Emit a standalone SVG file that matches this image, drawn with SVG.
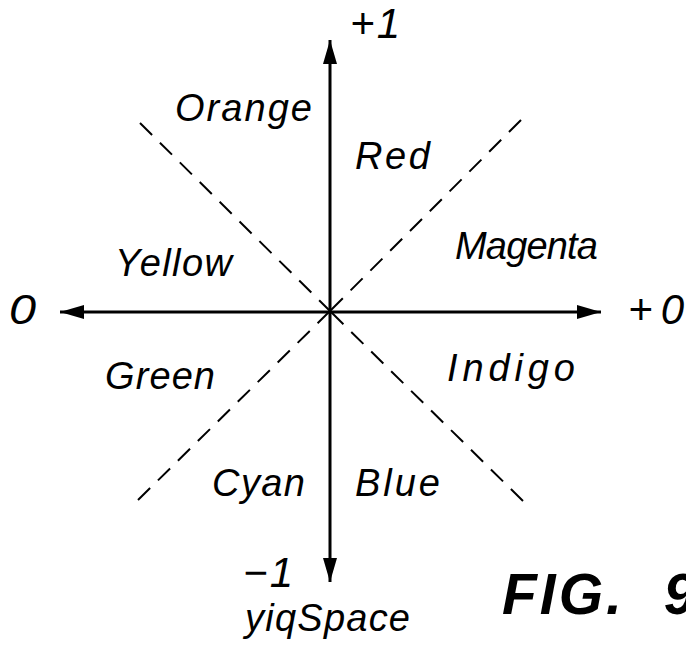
<svg xmlns="http://www.w3.org/2000/svg" width="686" height="649" viewBox="0 0 686 649">
<style>
.lbl{font-family:"Liberation Sans","DejaVu Sans",sans-serif;font-style:italic;font-size:38px;fill:#000}
.ax{font-size:42px}
.axis{stroke:#000;stroke-width:3;fill:none}
.diag{stroke:#000;stroke-width:2;stroke-dasharray:17 11;fill:none}
.fig{font-family:"Liberation Sans",Arial,sans-serif;font-style:italic;font-weight:bold;font-size:57px;fill:#000}
</style>
<defs>
<marker id="ah" viewBox="0 0 24 14" refX="24" refY="7" markerWidth="24" markerHeight="14" markerUnits="userSpaceOnUse" orient="auto">
<path d="M0,0 L24,7 L0,14 Z" fill="#000"/>
</marker>
</defs>
<rect width="686" height="649" fill="#fff"/>
<g id="connectors">
<line class="diag" x1="140" y1="123" x2="330" y2="311"/>
<line class="diag" x1="521" y1="120" x2="330" y2="311"/>
<line class="diag" x1="138" y1="500" x2="330" y2="311"/>
<line class="diag" x1="523" y1="501" x2="330" y2="311"/>
<line class="axis" x1="330" y1="311" x2="330" y2="40" marker-end="url(#ah)"/>
<line class="axis" x1="330" y1="311" x2="330" y2="582" marker-end="url(#ah)"/>
<line class="axis" x1="330" y1="312" x2="60" y2="312" marker-end="url(#ah)"/>
<line class="axis" x1="330" y1="312" x2="601" y2="312" marker-end="url(#ah)"/>
</g>
<g id="axis-labels">
<text class="lbl ax" x="350" y="38" textLength="50" lengthAdjust="spacing">+1</text>
<text class="lbl ax" x="9" y="324" textLength="27" lengthAdjust="spacingAndGlyphs">0</text>
<text class="lbl ax" x="628" y="324" textLength="56" lengthAdjust="spacing">+0</text>
<text class="lbl ax" x="243" y="587" textLength="50" lengthAdjust="spacing">−1</text>
<text class="lbl" x="245" y="631" textLength="165" lengthAdjust="spacing">yiqSpace</text>
</g>
<g id="node-orange"><text class="lbl" x="175" y="121" textLength="137" lengthAdjust="spacing">Orange</text></g>
<g id="node-red"><text class="lbl" x="355" y="169" textLength="75" lengthAdjust="spacing">Red</text></g>
<g id="node-magenta"><text class="lbl" x="455" y="259" textLength="143" lengthAdjust="spacing">Magenta</text></g>
<g id="node-yellow"><text class="lbl" x="115" y="276" textLength="117" lengthAdjust="spacing">Yellow</text></g>
<g id="node-green"><text class="lbl" x="105" y="389" textLength="110" lengthAdjust="spacing">Green</text></g>
<g id="node-indigo"><text class="lbl" x="447" y="381" textLength="128" lengthAdjust="spacing">Indigo</text></g>
<g id="node-cyan"><text class="lbl" x="212" y="496" textLength="93" lengthAdjust="spacing">Cyan</text></g>
<g id="node-blue"><text class="lbl" x="355" y="496" textLength="85" lengthAdjust="spacing">Blue</text></g>
<g id="caption"><text class="fig" x="502" y="614" letter-spacing="3" word-spacing="20">FIG. 9</text></g>
</svg>
